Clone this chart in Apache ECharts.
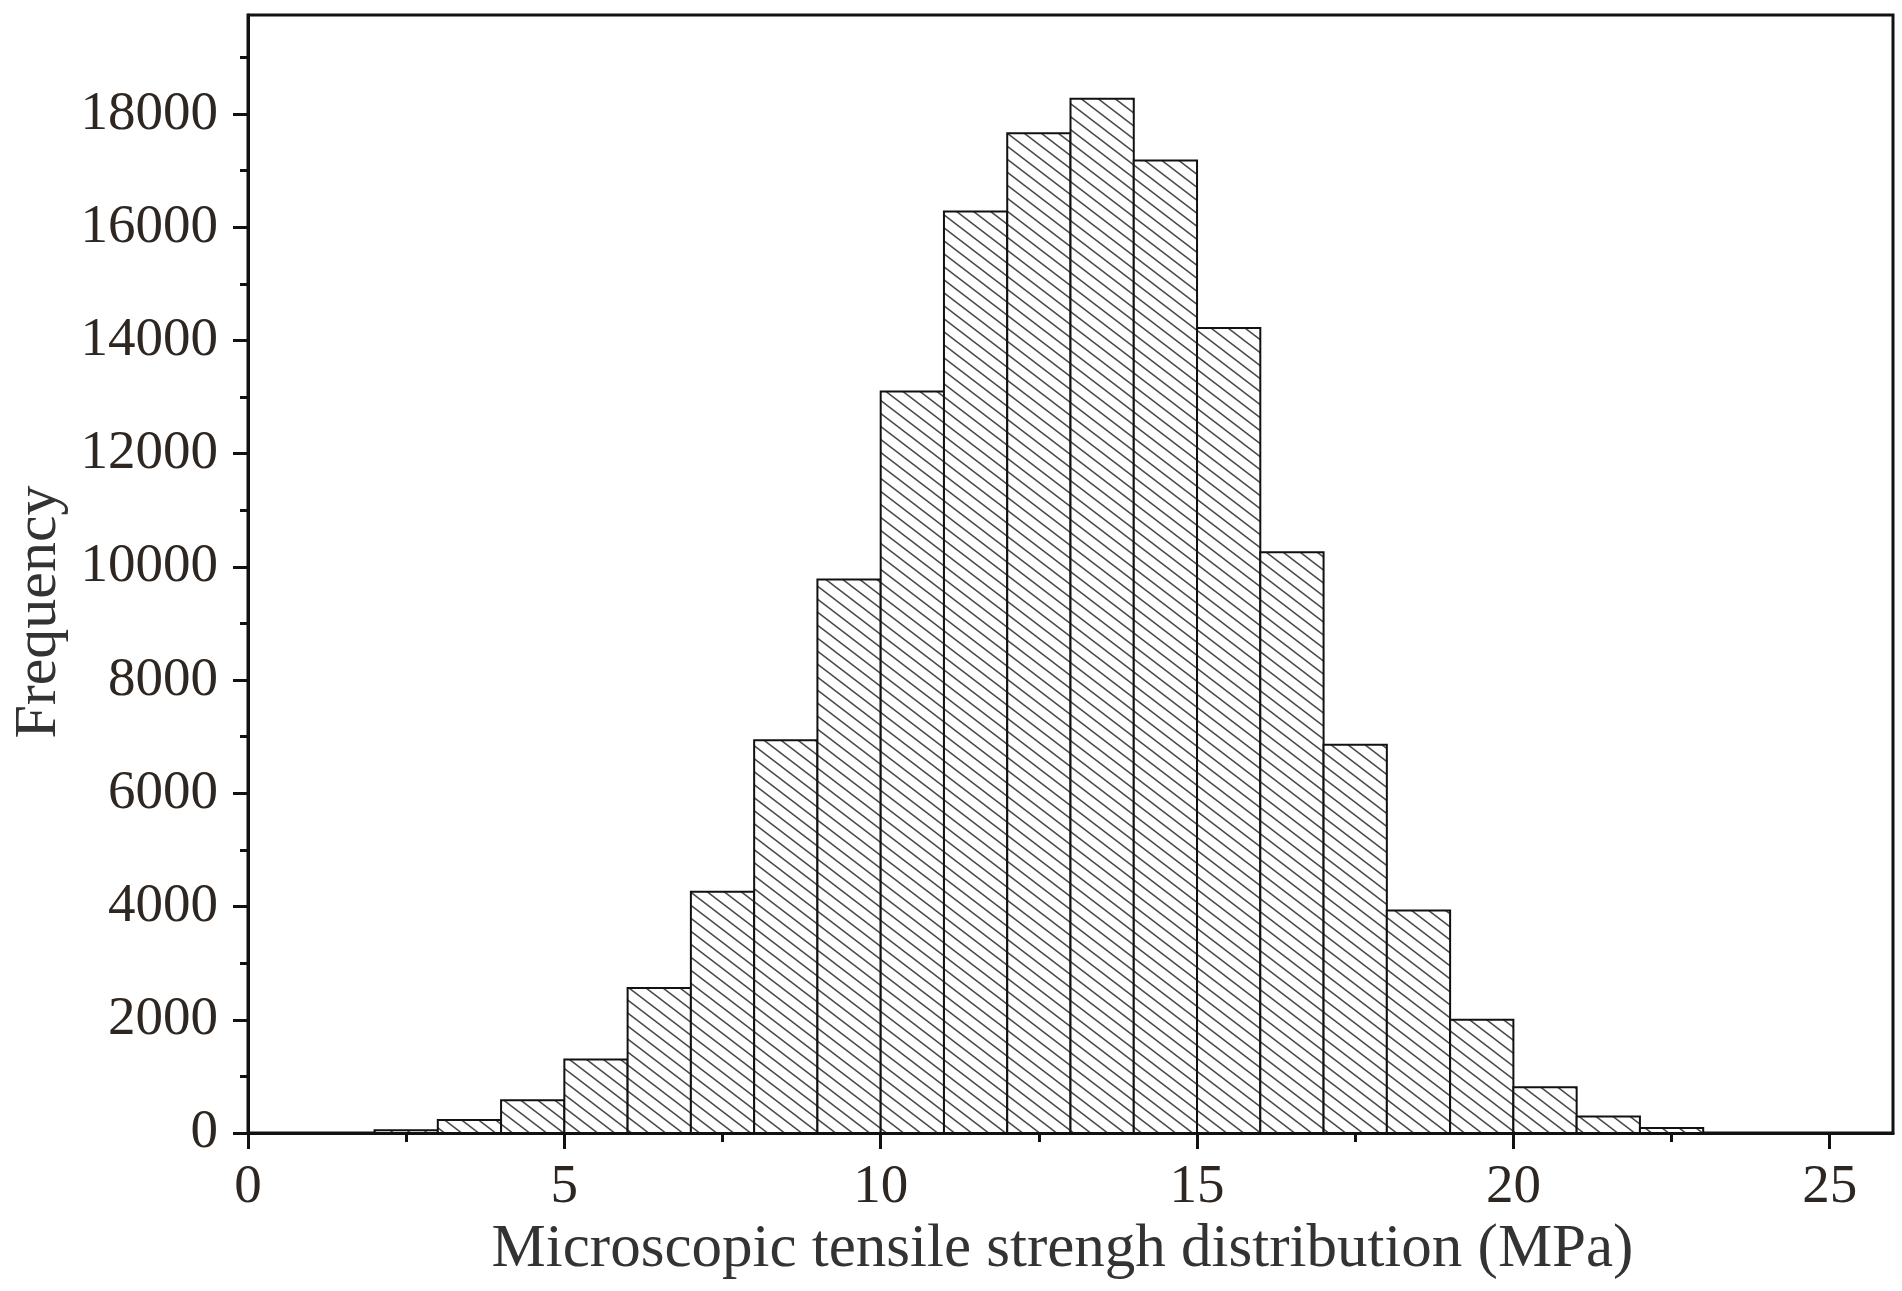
<!DOCTYPE html>
<html><head><meta charset="utf-8">
<script src="https://cdn.jsdelivr.net/npm/echarts@6/dist/echarts.min.js"></script>
<style>html,body{margin:0;padding:0;background:#fff}#c{width:1902px;height:1291px}</style>
</head><body><div id="c"></div>
<script>
// ---- data ----
const binStarts = [2,3,4,5,6,7,8,9,10,11,12,13,14,15,16,17,18,19,20,21,22];
const binWidth = 1;
const frequency = [50,230,580,1300,2560,4260,6940,9780,13100,16280,17660,18270,17180,14220,10260,6860,3930,2000,810,290,90];
const xMajorTicks = [0,5,10,15,20,25];
const xMinorTicks = [2.5,7.5,12.5,17.5,22.5];
const yMajorTicks = [0,2000,4000,6000,8000,10000,12000,14000,16000,18000];
const yMinorTicks = [1000,3000,5000,7000,9000,11000,13000,15000,17000,19000];
const xTitle = 'Microscopic tensile strengh distribution (MPa)';
const yTitle = 'Frequency';

function makeHatch(){
  const w = 17, h = 13;
  const c = document.createElement('canvas');
  c.width = w; c.height = h;
  const g = c.getContext('2d');
  g.fillStyle = '#fff'; g.fillRect(0,0,w,h);
  g.strokeStyle = '#4a4a4a'; g.lineWidth = 1.5;
  for (const dx of [-w, 0, w]) {
    g.beginPath(); g.moveTo(dx - w, -h); g.lineTo(dx + 2*w, 2*h); g.stroke();
  }
  return c;
}
const hatch = {image: makeHatch(), repeat: 'repeat'};

const font = 'Liberation Serif';
const labelColor = '#2e2620';
const lineColor = '#111';

const histData = binStarts.map((s, i) => [s, s + binWidth, frequency[i]]);

const chart = echarts.init(document.getElementById('c'), null, {renderer: 'canvas'});
chart.setOption({
  animation: false,
  backgroundColor: '#fff',
  grid: {left: 248, right: 9, top: 15, bottom: 158, outerBoundsMode: 'none', containLabel: false,
         show: true, borderColor: lineColor, borderWidth: 3, backgroundColor: 'transparent'},
  xAxis: [{
    type: 'value', min: 0, max: 26, position: 'bottom',
    axisLine: {show: true, onZero: false, lineStyle: {color: lineColor, width: 3}},
    axisTick: {show: true, inside: false, length: 16, customValues: xMajorTicks, lineStyle: {color: lineColor, width: 3}},
    axisLabel: {customValues: xMajorTicks, formatter: v => String(v), fontFamily: font, fontSize: 55, color: labelColor, margin: 27},
    splitLine: {show: false},
    name: xTitle, nameLocation: 'middle', nameGap: 80,
    nameTextStyle: {fontFamily: font, fontSize: 61, color: '#333', padding: [0, 16, 0, 0]}
  }, {
    type: 'value', min: 0, max: 26, position: 'bottom',
    axisLine: {show: false},
    axisTick: {show: true, inside: false, length: 9, customValues: xMinorTicks, lineStyle: {color: lineColor, width: 3}},
    axisLabel: {show: false}, splitLine: {show: false}
  }],
  yAxis: [{
    type: 'value', min: 0, max: 19750, position: 'left',
    axisLine: {show: true, onZero: false, lineStyle: {color: lineColor, width: 3}},
    axisTick: {show: true, inside: false, length: 15, customValues: yMajorTicks, lineStyle: {color: lineColor, width: 3}},
    axisLabel: {customValues: yMajorTicks, formatter: v => String(v), fontFamily: font, fontSize: 55, color: labelColor, margin: 30},
    splitLine: {show: false},
    name: yTitle, nameLocation: 'middle', nameGap: 172, nameRotate: 90,
    nameTextStyle: {fontFamily: font, fontSize: 60, color: '#333', padding: [0, 76, 0, 0]}
  }, {
    type: 'value', min: 0, max: 19750, position: 'left',
    axisLine: {show: false},
    axisTick: {show: true, inside: false, length: 8, customValues: yMinorTicks, lineStyle: {color: lineColor, width: 3}},
    axisLabel: {show: false}, splitLine: {show: false}
  }],
  series: [{
    type: 'custom',
    xAxisIndex: 0, yAxisIndex: 0,
    data: histData,
    encode: {x: [0, 1], y: 2},
    renderItem: function (params, api) {
      const p0 = api.coord([api.value(0), api.value(2)]);
      const p1 = api.coord([api.value(1), 0]);
      return {
        type: 'rect',
        shape: {x: p0[0], y: p0[1], width: p1[0] - p0[0], height: p1[1] - p0[1]},
        style: {fill: hatch, stroke: lineColor, lineWidth: 2}
      };
    }
  }]
});
</script>
</body></html>
